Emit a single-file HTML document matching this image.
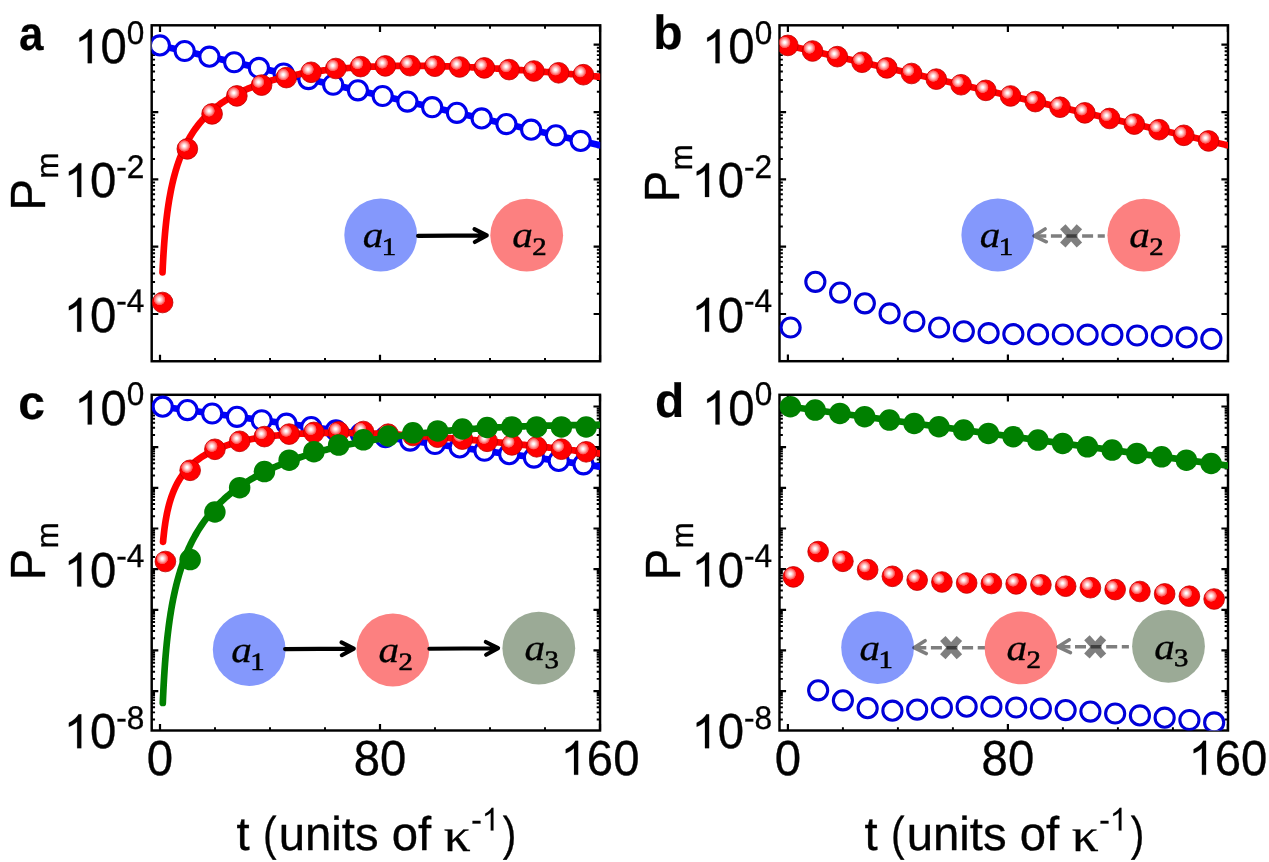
<!DOCTYPE html>
<html><head><meta charset="utf-8"><title>Figure</title>
<style>
html,body{margin:0;padding:0;background:#fff;}
body{width:1269px;height:862px;overflow:hidden;}
svg{display:block;}
.txt{opacity:0.999;}
text{text-rendering:geometricPrecision;font-family:"Liberation Sans",sans-serif;fill:#000;stroke:#000;stroke-width:0.35px;font-kerning:none;}
.one{fill:#000;stroke:#000;stroke-width:8;}
.kap{font-family:"Liberation Serif",serif;stroke-width:0.3px;}
.pl{font-size:48px;font-weight:bold;stroke-width:0.2px;}
.ntx{opacity:0.999;}
.nd{font-family:"Liberation Serif",serif;font-style:italic;font-size:36.8px;stroke-width:0.3px;}
.nds{font-family:"Liberation Serif",serif;font-style:normal;font-size:25px;stroke-width:0.55px;}
</style></head><body>
<svg width="1269" height="862" viewBox="0 0 1269 862">
<defs><radialGradient id="hl"><stop offset="0" stop-color="#fff"/><stop offset="0.14" stop-color="#fff"/><stop offset="0.55" stop-color="#ffa8a8"/><stop offset="0.93" stop-color="#ff4444"/><stop offset="1" stop-color="#ff2020" stop-opacity="0"/></radialGradient>
<clipPath id="cpa"><rect x="151.7" y="25.3" width="448.5" height="335.95"/></clipPath>
<clipPath id="cpb"><rect x="779.5" y="25.3" width="448.5" height="335.9"/></clipPath>
<clipPath id="cpc"><rect x="151.7" y="394.8" width="448.35" height="335.7"/></clipPath>
<clipPath id="cpd"><rect x="779.5" y="394.8" width="448.5" height="335.7"/></clipPath>
</defs>
<rect width="1269" height="862" fill="#fff"/>
<path d="M160 25.3 v6.6 M160 361.25 v-6.6 M380 25.3 v6.6 M380 361.25 v-6.6 M600 25.3 v6.6 M600 361.25 v-6.6 M151.7 44.7 h6.6 M600.2 44.7 h-6.6 M151.7 112.03 h6.6 M600.2 112.03 h-6.6 M151.7 179.36 h6.6 M600.2 179.36 h-6.6 M151.7 246.69 h6.6 M600.2 246.69 h-6.6 M151.7 314.02 h6.6 M600.2 314.02 h-6.6" stroke="#000" stroke-width="2.2" fill="none"/><path d="M215 25.3 v3.35 M215 361.25 v-3.35 M270 25.3 v3.35 M270 361.25 v-3.35 M325 25.3 v3.35 M325 361.25 v-3.35 M435 25.3 v3.35 M435 361.25 v-3.35 M490 25.3 v3.35 M490 361.25 v-3.35 M545 25.3 v3.35 M545 361.25 v-3.35 M151.7 91.76 h3.35 M600.2 91.76 h-3.35 M151.7 79.91 h3.35 M600.2 79.91 h-3.35 M151.7 71.49 h3.35 M600.2 71.49 h-3.35 M151.7 64.97 h3.35 M600.2 64.97 h-3.35 M151.7 59.64 h3.35 M600.2 59.64 h-3.35 M151.7 55.13 h3.35 M600.2 55.13 h-3.35 M151.7 51.22 h3.35 M600.2 51.22 h-3.35 M151.7 47.78 h3.35 M600.2 47.78 h-3.35 M151.7 159.09 h3.35 M600.2 159.09 h-3.35 M151.7 147.24 h3.35 M600.2 147.24 h-3.35 M151.7 138.82 h3.35 M600.2 138.82 h-3.35 M151.7 132.3 h3.35 M600.2 132.3 h-3.35 M151.7 126.97 h3.35 M600.2 126.97 h-3.35 M151.7 122.46 h3.35 M600.2 122.46 h-3.35 M151.7 118.55 h3.35 M600.2 118.55 h-3.35 M151.7 115.11 h3.35 M600.2 115.11 h-3.35 M151.7 226.42 h3.35 M600.2 226.42 h-3.35 M151.7 214.57 h3.35 M600.2 214.57 h-3.35 M151.7 206.15 h3.35 M600.2 206.15 h-3.35 M151.7 199.63 h3.35 M600.2 199.63 h-3.35 M151.7 194.3 h3.35 M600.2 194.3 h-3.35 M151.7 189.79 h3.35 M600.2 189.79 h-3.35 M151.7 185.88 h3.35 M600.2 185.88 h-3.35 M151.7 182.44 h3.35 M600.2 182.44 h-3.35 M151.7 293.75 h3.35 M600.2 293.75 h-3.35 M151.7 281.9 h3.35 M600.2 281.9 h-3.35 M151.7 273.48 h3.35 M600.2 273.48 h-3.35 M151.7 266.96 h3.35 M600.2 266.96 h-3.35 M151.7 261.63 h3.35 M600.2 261.63 h-3.35 M151.7 257.12 h3.35 M600.2 257.12 h-3.35 M151.7 253.21 h3.35 M600.2 253.21 h-3.35 M151.7 249.77 h3.35 M600.2 249.77 h-3.35" stroke="#000" stroke-width="1.95" fill="none"/>
<rect x="151.7" y="25.3" width="448.5" height="335.95" fill="none" stroke="#000" stroke-width="2.45"/>
<g clip-path="url(#cpa)">
<path d="M160 45.4 L600 145.31" fill="none" stroke="#0000ff" stroke-width="6.7" stroke-linecap="round" stroke-linejoin="round"/>
<circle cx="159.9" cy="45.4" r="9.55" fill="#fff" stroke="#0000ec" stroke-width="3.1"/><circle cx="184.65" cy="51.02" r="9.55" fill="#fff" stroke="#0000ec" stroke-width="3.1"/><circle cx="209.4" cy="56.64" r="9.55" fill="#fff" stroke="#0000ec" stroke-width="3.1"/><circle cx="234.15" cy="62.26" r="9.55" fill="#fff" stroke="#0000ec" stroke-width="3.1"/><circle cx="258.9" cy="67.88" r="9.55" fill="#fff" stroke="#0000ec" stroke-width="3.1"/><circle cx="283.65" cy="73.5" r="9.55" fill="#fff" stroke="#0000ec" stroke-width="3.1"/><circle cx="308.4" cy="79.12" r="9.55" fill="#fff" stroke="#0000ec" stroke-width="3.1"/><circle cx="333.15" cy="84.74" r="9.55" fill="#fff" stroke="#0000ec" stroke-width="3.1"/><circle cx="357.9" cy="90.36" r="9.55" fill="#fff" stroke="#0000ec" stroke-width="3.1"/><circle cx="382.65" cy="95.98" r="9.55" fill="#fff" stroke="#0000ec" stroke-width="3.1"/><circle cx="407.4" cy="101.6" r="9.55" fill="#fff" stroke="#0000ec" stroke-width="3.1"/><circle cx="432.15" cy="107.22" r="9.55" fill="#fff" stroke="#0000ec" stroke-width="3.1"/><circle cx="456.9" cy="112.84" r="9.55" fill="#fff" stroke="#0000ec" stroke-width="3.1"/><circle cx="481.65" cy="118.46" r="9.55" fill="#fff" stroke="#0000ec" stroke-width="3.1"/><circle cx="506.4" cy="124.08" r="9.55" fill="#fff" stroke="#0000ec" stroke-width="3.1"/><circle cx="531.15" cy="129.7" r="9.55" fill="#fff" stroke="#0000ec" stroke-width="3.1"/><circle cx="555.9" cy="135.32" r="9.55" fill="#fff" stroke="#0000ec" stroke-width="3.1"/><circle cx="580.65" cy="140.94" r="9.55" fill="#fff" stroke="#0000ec" stroke-width="3.1"/>
<path d="M162.52 272.3 L162.8 266.44 L163.07 261.14 L163.35 256.3 L163.62 251.85 L163.9 247.73 L164.17 243.89 L164.45 240.31 L164.72 236.94 L165 233.77 L165.27 230.76 L165.55 227.92 L165.82 225.22 L166.1 222.64 L166.37 220.18 L166.65 217.83 L166.92 215.57 L167.2 213.41 L167.47 211.33 L167.75 209.32 L168.02 207.39 L168.3 205.53 L168.57 203.72 L168.85 201.98 L169.12 200.29 L169.4 198.66 L169.67 197.07 L169.95 195.53 L170.22 194.04 L170.5 192.58 L170.77 191.16 L171.05 189.79 L171.32 188.44 L171.6 187.13 L171.87 185.86 L172.15 184.61 L172.42 183.39 L172.7 182.2 L172.97 181.04 L173.25 179.9 L173.52 178.79 L173.8 177.7 L174.07 176.64 L174.35 175.59 L174.62 174.57 L174.9 173.57 L175.17 172.58 L175.45 171.62 L175.72 170.67 L176 169.74 L176.27 168.83 L176.55 167.94 L176.82 167.06 L177.1 166.19 L177.37 165.34 L177.65 164.51 L177.92 163.69 L178.2 162.88 L178.47 162.08 L178.75 161.3 L179.02 160.53 L179.3 159.77 L179.57 159.03 L179.85 158.29 L180.12 157.57 L180.4 156.85 L180.67 156.15 L180.95 155.46 L181.22 154.78 L181.5 154.1 L181.77 153.44 L182.05 152.78 L182.32 152.14 L182.6 151.5 L182.87 150.87 L183.15 150.25 L183.42 149.64 L183.7 149.03 L183.97 148.44 L184.25 147.85 L184.52 147.26 L184.8 146.69 L185.07 146.12 L185.35 145.56 L185.62 145.01 L185.9 144.46 L186.17 143.92 L186.45 143.38 L186.72 142.85 L187 142.33 L187.27 141.81 L187.55 141.3 L187.82 140.8 L188.1 140.3 L188.37 139.8 L188.65 139.31 L188.92 138.83 L189.2 138.35 L189.47 137.88 L189.75 137.41 L190.02 136.95 L190.3 136.49 L190.57 136.03 L190.85 135.59 L191.12 135.14 L191.4 134.7 L191.67 134.26 L191.95 133.83 L192.22 133.41 L192.5 132.98 L192.77 132.56 L193 132.22 L194.38 130.2 L195.75 128.27 L197.12 126.42 L198.5 124.66 L199.88 122.96 L201.25 121.34 L202.62 119.78 L204 118.28 L205.38 116.83 L206.75 115.44 L208.12 114.09 L209.5 112.79 L210.88 111.54 L212.25 110.33 L213.62 109.16 L215 108.02 L216.38 106.92 L217.75 105.86 L219.12 104.83 L220.5 103.83 L221.88 102.86 L223.25 101.91 L224.62 101 L226 100.1 L227.38 99.24 L228.75 98.4 L230.12 97.58 L231.5 96.78 L232.88 96.01 L234.25 95.25 L235.62 94.51 L237 93.8 L238.38 93.1 L239.75 92.42 L241.12 91.75 L242.5 91.11 L243.88 90.47 L245.25 89.86 L246.62 89.26 L248 88.67 L249.38 88.09 L250.75 87.53 L252.12 86.99 L253.5 86.45 L254.88 85.93 L256.25 85.42 L257.62 84.93 L259 84.44 L260.38 83.96 L261.75 83.5 L263.12 83.04 L264.5 82.6 L265.88 82.17 L267.25 81.74 L268.62 81.33 L270 80.92 L271.38 80.52 L272.75 80.13 L274.12 79.76 L275.5 79.38 L276.88 79.02 L278.25 78.66 L279.62 78.32 L281 77.98 L282.38 77.64 L283.75 77.32 L285.12 77 L286.5 76.69 L287.88 76.38 L289.25 76.08 L290.62 75.79 L292 75.51 L293.38 75.23 L294.75 74.95 L296.12 74.69 L297.5 74.43 L298.88 74.17 L300.25 73.92 L301.62 73.67 L303 73.44 L304.38 73.2 L305.75 72.97 L307.12 72.75 L308.5 72.53 L309.88 72.32 L311.25 72.11 L312.62 71.9 L314 71.7 L315.38 71.51 L316.75 71.32 L318.12 71.13 L319.5 70.95 L320.88 70.77 L322.25 70.6 L323.62 70.43 L325 70.26 L326.38 70.1 L327.75 69.95 L329.12 69.79 L330.5 69.64 L331.88 69.5 L333.25 69.35 L334.62 69.21 L336 69.08 L337.38 68.95 L338.75 68.82 L340.12 68.69 L341.5 68.57 L342.88 68.45 L344.25 68.34 L345.62 68.23 L347 68.12 L348.38 68.01 L349.75 67.91 L351.12 67.81 L352.5 67.71 L353.88 67.62 L355.25 67.53 L356.62 67.44 L358 67.36 L359.38 67.27 L360.75 67.19 L362.12 67.12 L363.5 67.04 L364.88 66.97 L366.25 66.9 L367.62 66.83 L369 66.77 L370.38 66.71 L371.75 66.65 L373.12 66.59 L374.5 66.54 L375.88 66.48 L377.25 66.43 L378.62 66.39 L380 66.34 L381.38 66.3 L382.75 66.26 L384.12 66.22 L385.5 66.18 L386.88 66.15 L388.25 66.12 L389.62 66.09 L391 66.06 L392.38 66.03 L393.75 66.01 L395.12 65.98 L396.5 65.96 L397.88 65.95 L399.25 65.93 L400.62 65.92 L402 65.9 L403.38 65.89 L404.75 65.88 L406.12 65.88 L407.5 65.87 L408.88 65.87 L410.25 65.86 L411.62 65.86 L413 65.87 L414.38 65.87 L415.75 65.87 L417.12 65.88 L418.5 65.89 L419.88 65.9 L421.25 65.91 L422.62 65.92 L424 65.94 L425.38 65.95 L426.75 65.97 L428.12 65.99 L429.5 66.01 L430.88 66.03 L432.25 66.06 L433.62 66.08 L435 66.11 L436.38 66.14 L437.75 66.17 L439.12 66.2 L440.5 66.23 L441.88 66.26 L443.25 66.3 L444.62 66.33 L446 66.37 L447.38 66.41 L448.75 66.45 L450.12 66.49 L451.5 66.53 L452.88 66.58 L454.25 66.62 L455.62 66.67 L457 66.72 L458.38 66.77 L459.75 66.82 L461.12 66.87 L462.5 66.92 L463.88 66.98 L465.25 67.03 L466.62 67.09 L468 67.14 L469.38 67.2 L470.75 67.26 L472.12 67.32 L473.5 67.38 L474.88 67.45 L476.25 67.51 L477.62 67.58 L479 67.64 L480.38 67.71 L481.75 67.78 L483.12 67.85 L484.5 67.92 L485.88 67.99 L487.25 68.06 L488.62 68.14 L490 68.21 L491.38 68.28 L492.75 68.36 L494.12 68.44 L495.5 68.52 L496.88 68.6 L498.25 68.68 L499.62 68.76 L501 68.84 L502.38 68.92 L503.75 69.01 L505.12 69.09 L506.5 69.18 L507.88 69.26 L509.25 69.35 L510.62 69.44 L512 69.53 L513.38 69.62 L514.75 69.71 L516.12 69.8 L517.5 69.9 L518.88 69.99 L520.25 70.08 L521.62 70.18 L523 70.28 L524.38 70.37 L525.75 70.47 L527.12 70.57 L528.5 70.67 L529.88 70.77 L531.25 70.87 L532.62 70.97 L534 71.07 L535.38 71.18 L536.75 71.28 L538.12 71.39 L539.5 71.49 L540.88 71.6 L542.25 71.7 L543.62 71.81 L545 71.92 L546.38 72.03 L547.75 72.14 L549.12 72.25 L550.5 72.36 L551.88 72.47 L553.25 72.59 L554.62 72.7 L556 72.82 L557.38 72.93 L558.75 73.05 L560.12 73.16 L561.5 73.28 L562.88 73.4 L564.25 73.52 L565.62 73.63 L567 73.75 L568.38 73.87 L569.75 74 L571.12 74.12 L572.5 74.24 L573.88 74.36 L575.25 74.49 L576.62 74.61 L578 74.73 L579.38 74.86 L580.75 74.99 L582.12 75.11 L583.5 75.24 L584.88 75.37 L586.25 75.5 L587.62 75.62 L589 75.75 L590.38 75.88 L591.75 76.01 L593.12 76.15 L594.5 76.28 L595.88 76.41 L597.25 76.54 L598.62 76.68 L600 76.81" fill="none" stroke="#f00" stroke-width="6.7" stroke-linecap="round" stroke-linejoin="round"/>
<circle cx="162.6" cy="302.5" r="10.35" fill="#f00" stroke="#bc0000" stroke-width="0.8"/><circle cx="159.5" cy="299.5" r="6.0" fill="url(#hl)"/><circle cx="187.35" cy="148.9" r="10.35" fill="#f00" stroke="#bc0000" stroke-width="0.8"/><circle cx="184.25" cy="145.9" r="6.0" fill="url(#hl)"/><circle cx="212.1" cy="113.9" r="10.35" fill="#f00" stroke="#bc0000" stroke-width="0.8"/><circle cx="209" cy="110.9" r="6.0" fill="url(#hl)"/><circle cx="236.85" cy="95.9" r="10.35" fill="#f00" stroke="#bc0000" stroke-width="0.8"/><circle cx="233.75" cy="92.9" r="6.0" fill="url(#hl)"/><circle cx="261.6" cy="85.1" r="10.35" fill="#f00" stroke="#bc0000" stroke-width="0.8"/><circle cx="258.5" cy="82.1" r="6.0" fill="url(#hl)"/><circle cx="286.35" cy="77.6" r="10.35" fill="#f00" stroke="#bc0000" stroke-width="0.8"/><circle cx="283.25" cy="74.6" r="6.0" fill="url(#hl)"/><circle cx="311.1" cy="72.3" r="10.35" fill="#f00" stroke="#bc0000" stroke-width="0.8"/><circle cx="308" cy="69.3" r="6.0" fill="url(#hl)"/><circle cx="335.85" cy="68.5" r="10.35" fill="#f00" stroke="#bc0000" stroke-width="0.8"/><circle cx="332.75" cy="65.5" r="6.0" fill="url(#hl)"/><circle cx="360.6" cy="66.6" r="10.35" fill="#f00" stroke="#bc0000" stroke-width="0.8"/><circle cx="357.5" cy="63.6" r="6.0" fill="url(#hl)"/><circle cx="385.35" cy="65.9" r="10.35" fill="#f00" stroke="#bc0000" stroke-width="0.8"/><circle cx="382.25" cy="62.9" r="6.0" fill="url(#hl)"/><circle cx="410.1" cy="65.7" r="10.35" fill="#f00" stroke="#bc0000" stroke-width="0.8"/><circle cx="407" cy="62.7" r="6.0" fill="url(#hl)"/><circle cx="434.85" cy="66.2" r="10.35" fill="#f00" stroke="#bc0000" stroke-width="0.8"/><circle cx="431.75" cy="63.2" r="6.0" fill="url(#hl)"/><circle cx="459.6" cy="67" r="10.35" fill="#f00" stroke="#bc0000" stroke-width="0.8"/><circle cx="456.5" cy="64" r="6.0" fill="url(#hl)"/><circle cx="484.35" cy="67.9" r="10.35" fill="#f00" stroke="#bc0000" stroke-width="0.8"/><circle cx="481.25" cy="64.9" r="6.0" fill="url(#hl)"/><circle cx="509.1" cy="69.6" r="10.35" fill="#f00" stroke="#bc0000" stroke-width="0.8"/><circle cx="506" cy="66.6" r="6.0" fill="url(#hl)"/><circle cx="533.85" cy="71" r="10.35" fill="#f00" stroke="#bc0000" stroke-width="0.8"/><circle cx="530.75" cy="68" r="6.0" fill="url(#hl)"/><circle cx="558.6" cy="72.8" r="10.35" fill="#f00" stroke="#bc0000" stroke-width="0.8"/><circle cx="555.5" cy="69.8" r="6.0" fill="url(#hl)"/><circle cx="583.35" cy="74.7" r="10.35" fill="#f00" stroke="#bc0000" stroke-width="0.8"/><circle cx="580.25" cy="71.7" r="6.0" fill="url(#hl)"/>
</g>
<circle cx="380.7" cy="235" r="36.4" fill="#8498fc"/>
<circle cx="526.7" cy="235.2" r="36.4" fill="#fc8080"/>
<path d="M418.1 235.9 L486.7 235.4 M474.5 229.2 L486.8 235.4 L474.8 242" fill="none" stroke="#000" stroke-width="4.1" stroke-linecap="round" stroke-linejoin="round"/>
<path d="M787.9 25.3 v6.6 M787.9 361.2 v-6.6 M1007.9 25.3 v6.6 M1007.9 361.2 v-6.6 M1227.9 25.3 v6.6 M1227.9 361.2 v-6.6 M779.5 44.7 h6.6 M1228 44.7 h-6.6 M779.5 112.03 h6.6 M1228 112.03 h-6.6 M779.5 179.36 h6.6 M1228 179.36 h-6.6 M779.5 246.69 h6.6 M1228 246.69 h-6.6 M779.5 314.02 h6.6 M1228 314.02 h-6.6" stroke="#000" stroke-width="2.2" fill="none"/><path d="M842.9 25.3 v3.35 M842.9 361.2 v-3.35 M897.9 25.3 v3.35 M897.9 361.2 v-3.35 M952.9 25.3 v3.35 M952.9 361.2 v-3.35 M1062.9 25.3 v3.35 M1062.9 361.2 v-3.35 M1117.9 25.3 v3.35 M1117.9 361.2 v-3.35 M1172.9 25.3 v3.35 M1172.9 361.2 v-3.35 M779.5 91.76 h3.35 M1228 91.76 h-3.35 M779.5 79.91 h3.35 M1228 79.91 h-3.35 M779.5 71.49 h3.35 M1228 71.49 h-3.35 M779.5 64.97 h3.35 M1228 64.97 h-3.35 M779.5 59.64 h3.35 M1228 59.64 h-3.35 M779.5 55.13 h3.35 M1228 55.13 h-3.35 M779.5 51.22 h3.35 M1228 51.22 h-3.35 M779.5 47.78 h3.35 M1228 47.78 h-3.35 M779.5 159.09 h3.35 M1228 159.09 h-3.35 M779.5 147.24 h3.35 M1228 147.24 h-3.35 M779.5 138.82 h3.35 M1228 138.82 h-3.35 M779.5 132.3 h3.35 M1228 132.3 h-3.35 M779.5 126.97 h3.35 M1228 126.97 h-3.35 M779.5 122.46 h3.35 M1228 122.46 h-3.35 M779.5 118.55 h3.35 M1228 118.55 h-3.35 M779.5 115.11 h3.35 M1228 115.11 h-3.35 M779.5 226.42 h3.35 M1228 226.42 h-3.35 M779.5 214.57 h3.35 M1228 214.57 h-3.35 M779.5 206.15 h3.35 M1228 206.15 h-3.35 M779.5 199.63 h3.35 M1228 199.63 h-3.35 M779.5 194.3 h3.35 M1228 194.3 h-3.35 M779.5 189.79 h3.35 M1228 189.79 h-3.35 M779.5 185.88 h3.35 M1228 185.88 h-3.35 M779.5 182.44 h3.35 M1228 182.44 h-3.35 M779.5 293.75 h3.35 M1228 293.75 h-3.35 M779.5 281.9 h3.35 M1228 281.9 h-3.35 M779.5 273.48 h3.35 M1228 273.48 h-3.35 M779.5 266.96 h3.35 M1228 266.96 h-3.35 M779.5 261.63 h3.35 M1228 261.63 h-3.35 M779.5 257.12 h3.35 M1228 257.12 h-3.35 M779.5 253.21 h3.35 M1228 253.21 h-3.35 M779.5 249.77 h3.35 M1228 249.77 h-3.35" stroke="#000" stroke-width="1.95" fill="none"/>
<rect x="779.5" y="25.3" width="448.5" height="335.9" fill="none" stroke="#000" stroke-width="2.45"/>
<g clip-path="url(#cpb)">
<circle cx="790.6" cy="327.5" r="9.55" fill="#fff" stroke="#0000d8" stroke-width="3.1"/><circle cx="815.35" cy="281.8" r="9.55" fill="#fff" stroke="#0000d8" stroke-width="3.1"/><circle cx="840.1" cy="292.6" r="9.55" fill="#fff" stroke="#0000d8" stroke-width="3.1"/><circle cx="864.85" cy="303.3" r="9.55" fill="#fff" stroke="#0000d8" stroke-width="3.1"/><circle cx="889.6" cy="313.4" r="9.55" fill="#fff" stroke="#0000d8" stroke-width="3.1"/><circle cx="914.35" cy="321.5" r="9.55" fill="#fff" stroke="#0000d8" stroke-width="3.1"/><circle cx="939.1" cy="327.5" r="9.55" fill="#fff" stroke="#0000d8" stroke-width="3.1"/><circle cx="963.85" cy="331.3" r="9.55" fill="#fff" stroke="#0000d8" stroke-width="3.1"/><circle cx="988.6" cy="333.2" r="9.55" fill="#fff" stroke="#0000d8" stroke-width="3.1"/><circle cx="1013.35" cy="334.2" r="9.55" fill="#fff" stroke="#0000d8" stroke-width="3.1"/><circle cx="1038.1" cy="334.4" r="9.55" fill="#fff" stroke="#0000d8" stroke-width="3.1"/><circle cx="1062.85" cy="334.5" r="9.55" fill="#fff" stroke="#0000d8" stroke-width="3.1"/><circle cx="1087.6" cy="334.7" r="9.55" fill="#fff" stroke="#0000d8" stroke-width="3.1"/><circle cx="1112.35" cy="334.9" r="9.55" fill="#fff" stroke="#0000d8" stroke-width="3.1"/><circle cx="1137.1" cy="335.5" r="9.55" fill="#fff" stroke="#0000d8" stroke-width="3.1"/><circle cx="1161.85" cy="336.2" r="9.55" fill="#fff" stroke="#0000d8" stroke-width="3.1"/><circle cx="1186.6" cy="337.4" r="9.55" fill="#fff" stroke="#0000d8" stroke-width="3.1"/><circle cx="1211.35" cy="338.9" r="9.55" fill="#fff" stroke="#0000d8" stroke-width="3.1"/>
<path d="M787.9 45.4 L1228 145.33" fill="none" stroke="#f00" stroke-width="6.7" stroke-linecap="round" stroke-linejoin="round"/>
<circle cx="787.8" cy="45.4" r="10.35" fill="#f00" stroke="#bc0000" stroke-width="0.8"/><circle cx="784.7" cy="42.4" r="6.0" fill="url(#hl)"/><circle cx="812.55" cy="51.02" r="10.35" fill="#f00" stroke="#bc0000" stroke-width="0.8"/><circle cx="809.45" cy="48.02" r="6.0" fill="url(#hl)"/><circle cx="837.3" cy="56.64" r="10.35" fill="#f00" stroke="#bc0000" stroke-width="0.8"/><circle cx="834.2" cy="53.64" r="6.0" fill="url(#hl)"/><circle cx="862.05" cy="62.26" r="10.35" fill="#f00" stroke="#bc0000" stroke-width="0.8"/><circle cx="858.95" cy="59.26" r="6.0" fill="url(#hl)"/><circle cx="886.8" cy="67.88" r="10.35" fill="#f00" stroke="#bc0000" stroke-width="0.8"/><circle cx="883.7" cy="64.88" r="6.0" fill="url(#hl)"/><circle cx="911.55" cy="73.5" r="10.35" fill="#f00" stroke="#bc0000" stroke-width="0.8"/><circle cx="908.45" cy="70.5" r="6.0" fill="url(#hl)"/><circle cx="936.3" cy="79.12" r="10.35" fill="#f00" stroke="#bc0000" stroke-width="0.8"/><circle cx="933.2" cy="76.12" r="6.0" fill="url(#hl)"/><circle cx="961.05" cy="84.74" r="10.35" fill="#f00" stroke="#bc0000" stroke-width="0.8"/><circle cx="957.95" cy="81.74" r="6.0" fill="url(#hl)"/><circle cx="985.8" cy="90.36" r="10.35" fill="#f00" stroke="#bc0000" stroke-width="0.8"/><circle cx="982.7" cy="87.36" r="6.0" fill="url(#hl)"/><circle cx="1010.55" cy="95.98" r="10.35" fill="#f00" stroke="#bc0000" stroke-width="0.8"/><circle cx="1007.45" cy="92.98" r="6.0" fill="url(#hl)"/><circle cx="1035.3" cy="101.6" r="10.35" fill="#f00" stroke="#bc0000" stroke-width="0.8"/><circle cx="1032.2" cy="98.6" r="6.0" fill="url(#hl)"/><circle cx="1060.05" cy="107.22" r="10.35" fill="#f00" stroke="#bc0000" stroke-width="0.8"/><circle cx="1056.95" cy="104.22" r="6.0" fill="url(#hl)"/><circle cx="1084.8" cy="112.84" r="10.35" fill="#f00" stroke="#bc0000" stroke-width="0.8"/><circle cx="1081.7" cy="109.84" r="6.0" fill="url(#hl)"/><circle cx="1109.55" cy="118.46" r="10.35" fill="#f00" stroke="#bc0000" stroke-width="0.8"/><circle cx="1106.45" cy="115.46" r="6.0" fill="url(#hl)"/><circle cx="1134.3" cy="124.08" r="10.35" fill="#f00" stroke="#bc0000" stroke-width="0.8"/><circle cx="1131.2" cy="121.08" r="6.0" fill="url(#hl)"/><circle cx="1159.05" cy="129.7" r="10.35" fill="#f00" stroke="#bc0000" stroke-width="0.8"/><circle cx="1155.95" cy="126.7" r="6.0" fill="url(#hl)"/><circle cx="1183.8" cy="135.32" r="10.35" fill="#f00" stroke="#bc0000" stroke-width="0.8"/><circle cx="1180.7" cy="132.32" r="6.0" fill="url(#hl)"/><circle cx="1208.55" cy="140.94" r="10.35" fill="#f00" stroke="#bc0000" stroke-width="0.8"/><circle cx="1205.45" cy="137.94" r="6.0" fill="url(#hl)"/>
</g>
<circle cx="997.8" cy="235" r="36.4" fill="#8498fc"/>
<circle cx="1143.8" cy="235.2" r="36.4" fill="#fc8080"/>
<g opacity="0.5"><path d="M1035.3 235.9 H1104.8" fill="none" stroke="#000" stroke-width="3.5" stroke-dasharray="11 4.6"/><path d="M1045.1 228.9 L1034 235.9 L1046.3 241.8" fill="none" stroke="#000" stroke-width="3.5" stroke-linecap="round" stroke-linejoin="round"/></g><path d="M1062.8 226.8 L1079.4 245 M1062.8 245 L1079.4 226.8" fill="none" stroke="#000" stroke-opacity="0.5" stroke-width="7.4"/>
<path d="M160 394.8 v6.6 M160 730.5 v-6.6 M380 394.8 v6.6 M380 730.5 v-6.6 M600 394.8 v6.6 M600 730.5 v-6.6 M151.7 406.5 h6.6 M600.05 406.5 h-6.6 M151.7 447.16 h6.6 M600.05 447.16 h-6.6 M151.7 487.82 h6.6 M600.05 487.82 h-6.6 M151.7 528.48 h6.6 M600.05 528.48 h-6.6 M151.7 569.14 h6.6 M600.05 569.14 h-6.6 M151.7 609.8 h6.6 M600.05 609.8 h-6.6 M151.7 650.46 h6.6 M600.05 650.46 h-6.6 M151.7 691.12 h6.6 M600.05 691.12 h-6.6" stroke="#000" stroke-width="2.2" fill="none"/><path d="M215 394.8 v3.35 M215 730.5 v-3.35 M270 394.8 v3.35 M270 730.5 v-3.35 M325 394.8 v3.35 M325 730.5 v-3.35 M435 394.8 v3.35 M435 730.5 v-3.35 M490 394.8 v3.35 M490 730.5 v-3.35 M545 394.8 v3.35 M545 730.5 v-3.35 M151.7 434.92 h3.35 M600.05 434.92 h-3.35 M151.7 427.76 h3.35 M600.05 427.76 h-3.35 M151.7 422.68 h3.35 M600.05 422.68 h-3.35 M151.7 418.74 h3.35 M600.05 418.74 h-3.35 M151.7 415.52 h3.35 M600.05 415.52 h-3.35 M151.7 412.8 h3.35 M600.05 412.8 h-3.35 M151.7 410.44 h3.35 M600.05 410.44 h-3.35 M151.7 408.36 h3.35 M600.05 408.36 h-3.35 M151.7 475.58 h3.35 M600.05 475.58 h-3.35 M151.7 468.42 h3.35 M600.05 468.42 h-3.35 M151.7 463.34 h3.35 M600.05 463.34 h-3.35 M151.7 459.4 h3.35 M600.05 459.4 h-3.35 M151.7 456.18 h3.35 M600.05 456.18 h-3.35 M151.7 453.46 h3.35 M600.05 453.46 h-3.35 M151.7 451.1 h3.35 M600.05 451.1 h-3.35 M151.7 449.02 h3.35 M600.05 449.02 h-3.35 M151.7 516.24 h3.35 M600.05 516.24 h-3.35 M151.7 509.08 h3.35 M600.05 509.08 h-3.35 M151.7 504 h3.35 M600.05 504 h-3.35 M151.7 500.06 h3.35 M600.05 500.06 h-3.35 M151.7 496.84 h3.35 M600.05 496.84 h-3.35 M151.7 494.12 h3.35 M600.05 494.12 h-3.35 M151.7 491.76 h3.35 M600.05 491.76 h-3.35 M151.7 489.68 h3.35 M600.05 489.68 h-3.35 M151.7 556.9 h3.35 M600.05 556.9 h-3.35 M151.7 549.74 h3.35 M600.05 549.74 h-3.35 M151.7 544.66 h3.35 M600.05 544.66 h-3.35 M151.7 540.72 h3.35 M600.05 540.72 h-3.35 M151.7 537.5 h3.35 M600.05 537.5 h-3.35 M151.7 534.78 h3.35 M600.05 534.78 h-3.35 M151.7 532.42 h3.35 M600.05 532.42 h-3.35 M151.7 530.34 h3.35 M600.05 530.34 h-3.35 M151.7 597.56 h3.35 M600.05 597.56 h-3.35 M151.7 590.4 h3.35 M600.05 590.4 h-3.35 M151.7 585.32 h3.35 M600.05 585.32 h-3.35 M151.7 581.38 h3.35 M600.05 581.38 h-3.35 M151.7 578.16 h3.35 M600.05 578.16 h-3.35 M151.7 575.44 h3.35 M600.05 575.44 h-3.35 M151.7 573.08 h3.35 M600.05 573.08 h-3.35 M151.7 571 h3.35 M600.05 571 h-3.35 M151.7 638.22 h3.35 M600.05 638.22 h-3.35 M151.7 631.06 h3.35 M600.05 631.06 h-3.35 M151.7 625.98 h3.35 M600.05 625.98 h-3.35 M151.7 622.04 h3.35 M600.05 622.04 h-3.35 M151.7 618.82 h3.35 M600.05 618.82 h-3.35 M151.7 616.1 h3.35 M600.05 616.1 h-3.35 M151.7 613.74 h3.35 M600.05 613.74 h-3.35 M151.7 611.66 h3.35 M600.05 611.66 h-3.35 M151.7 678.88 h3.35 M600.05 678.88 h-3.35 M151.7 671.72 h3.35 M600.05 671.72 h-3.35 M151.7 666.64 h3.35 M600.05 666.64 h-3.35 M151.7 662.7 h3.35 M600.05 662.7 h-3.35 M151.7 659.48 h3.35 M600.05 659.48 h-3.35 M151.7 656.76 h3.35 M600.05 656.76 h-3.35 M151.7 654.4 h3.35 M600.05 654.4 h-3.35 M151.7 652.32 h3.35 M600.05 652.32 h-3.35 M151.7 719.54 h3.35 M600.05 719.54 h-3.35 M151.7 712.38 h3.35 M600.05 712.38 h-3.35 M151.7 707.3 h3.35 M600.05 707.3 h-3.35 M151.7 703.36 h3.35 M600.05 703.36 h-3.35 M151.7 700.14 h3.35 M600.05 700.14 h-3.35 M151.7 697.42 h3.35 M600.05 697.42 h-3.35 M151.7 695.06 h3.35 M600.05 695.06 h-3.35 M151.7 692.98 h3.35 M600.05 692.98 h-3.35" stroke="#000" stroke-width="1.95" fill="none"/>
<rect x="151.7" y="394.8" width="448.35" height="335.7" fill="none" stroke="#000" stroke-width="2.45"/>
<g clip-path="url(#cpc)">
<path d="M162.7 406.7 L600.2 466.62" fill="none" stroke="#0000ff" stroke-width="6.7" stroke-linecap="round" stroke-linejoin="round"/>
<circle cx="162.7" cy="406.7" r="9.55" fill="#fff" stroke="#0000ec" stroke-width="3.1"/><circle cx="187.45" cy="410.09" r="9.55" fill="#fff" stroke="#0000ec" stroke-width="3.1"/><circle cx="212.2" cy="413.48" r="9.55" fill="#fff" stroke="#0000ec" stroke-width="3.1"/><circle cx="236.95" cy="416.87" r="9.55" fill="#fff" stroke="#0000ec" stroke-width="3.1"/><circle cx="261.7" cy="420.26" r="9.55" fill="#fff" stroke="#0000ec" stroke-width="3.1"/><circle cx="286.45" cy="423.65" r="9.55" fill="#fff" stroke="#0000ec" stroke-width="3.1"/><circle cx="311.2" cy="427.04" r="9.55" fill="#fff" stroke="#0000ec" stroke-width="3.1"/><circle cx="335.95" cy="430.43" r="9.55" fill="#fff" stroke="#0000ec" stroke-width="3.1"/><circle cx="360.7" cy="433.82" r="9.55" fill="#fff" stroke="#0000ec" stroke-width="3.1"/><circle cx="385.45" cy="437.21" r="9.55" fill="#fff" stroke="#0000ec" stroke-width="3.1"/><circle cx="410.2" cy="440.6" r="9.55" fill="#fff" stroke="#0000ec" stroke-width="3.1"/><circle cx="434.95" cy="443.99" r="9.55" fill="#fff" stroke="#0000ec" stroke-width="3.1"/><circle cx="459.7" cy="447.38" r="9.55" fill="#fff" stroke="#0000ec" stroke-width="3.1"/><circle cx="484.45" cy="450.77" r="9.55" fill="#fff" stroke="#0000ec" stroke-width="3.1"/><circle cx="509.2" cy="454.16" r="9.55" fill="#fff" stroke="#0000ec" stroke-width="3.1"/><circle cx="533.95" cy="457.55" r="9.55" fill="#fff" stroke="#0000ec" stroke-width="3.1"/><circle cx="558.7" cy="460.94" r="9.55" fill="#fff" stroke="#0000ec" stroke-width="3.1"/><circle cx="583.45" cy="464.33" r="9.55" fill="#fff" stroke="#0000ec" stroke-width="3.1"/>
<path d="M163.07 541.8 L163.35 538.81 L163.62 536.07 L163.9 533.52 L164.17 531.16 L164.45 528.95 L164.72 526.87 L165 524.92 L165.27 523.07 L165.55 521.32 L165.82 519.66 L166.1 518.08 L166.37 516.57 L166.65 515.12 L166.92 513.74 L167.2 512.41 L167.47 511.14 L167.75 509.91 L168.02 508.73 L168.3 507.59 L168.57 506.48 L168.85 505.42 L169.12 504.39 L169.4 503.39 L169.67 502.42 L169.95 501.48 L170.22 500.57 L170.5 499.68 L170.77 498.82 L171.05 497.98 L171.32 497.16 L171.6 496.37 L171.87 495.59 L172.15 494.83 L172.42 494.09 L172.7 493.37 L172.97 492.66 L173.25 491.98 L173.52 491.3 L173.8 490.64 L174.07 490 L174.35 489.37 L174.62 488.75 L174.9 488.14 L175.17 487.55 L175.45 486.96 L175.72 486.39 L176 485.83 L176.27 485.28 L176.55 484.74 L176.82 484.21 L177.1 483.69 L177.37 483.18 L177.65 482.68 L177.92 482.19 L178.2 481.7 L178.47 481.23 L178.75 480.76 L179.02 480.29 L179.3 479.84 L179.57 479.39 L179.85 478.95 L180.12 478.52 L180.4 478.09 L180.67 477.67 L180.95 477.26 L181.22 476.85 L181.5 476.45 L181.77 476.05 L182.05 475.66 L182.32 475.28 L182.6 474.9 L182.87 474.53 L183.15 474.16 L183.42 473.79 L183.7 473.43 L183.97 473.08 L184.25 472.73 L184.52 472.39 L184.8 472.05 L185.07 471.71 L185.35 471.38 L185.62 471.05 L185.9 470.73 L186.17 470.41 L186.45 470.09 L186.72 469.78 L187 469.47 L187.27 469.17 L187.55 468.87 L187.82 468.57 L188.1 468.27 L188.37 467.98 L188.65 467.7 L188.92 467.41 L189.2 467.13 L189.47 466.86 L189.75 466.58 L190.02 466.31 L190.3 466.04 L190.57 465.78 L190.85 465.51 L191.12 465.25 L191.4 465 L191.67 464.74 L191.95 464.49 L192.22 464.24 L192.5 464 L192.77 463.75 L193 463.55 L194.38 462.38 L195.75 461.26 L197.12 460.2 L198.5 459.19 L199.88 458.22 L201.25 457.29 L202.62 456.4 L204 455.55 L205.38 454.74 L206.75 453.95 L208.12 453.2 L209.5 452.48 L210.88 451.78 L212.25 451.11 L213.62 450.47 L215 449.84 L216.38 449.24 L217.75 448.67 L219.12 448.11 L220.5 447.57 L221.88 447.05 L223.25 446.54 L224.62 446.06 L226 445.59 L227.38 445.13 L228.75 444.69 L230.12 444.26 L231.5 443.85 L232.88 443.45 L234.25 443.06 L235.62 442.69 L237 442.33 L238.38 441.97 L239.75 441.63 L241.12 441.3 L242.5 440.98 L243.88 440.67 L245.25 440.37 L246.62 440.08 L248 439.8 L249.38 439.53 L250.75 439.26 L252.12 439 L253.5 438.75 L254.88 438.51 L256.25 438.28 L257.62 438.05 L259 437.83 L260.38 437.62 L261.75 437.41 L263.12 437.21 L264.5 437.02 L265.88 436.83 L267.25 436.65 L268.62 436.47 L270 436.3 L271.38 436.14 L272.75 435.98 L274.12 435.83 L275.5 435.68 L276.88 435.53 L278.25 435.4 L279.62 435.26 L281 435.13 L282.38 435.01 L283.75 434.89 L285.12 434.77 L286.5 434.66 L287.88 434.55 L289.25 434.45 L290.62 434.35 L292 434.26 L293.38 434.17 L294.75 434.08 L296.12 433.99 L297.5 433.91 L298.88 433.84 L300.25 433.76 L301.62 433.69 L303 433.63 L304.38 433.57 L305.75 433.51 L307.12 433.45 L308.5 433.39 L309.88 433.34 L311.25 433.3 L312.62 433.25 L314 433.21 L315.38 433.17 L316.75 433.14 L318.12 433.1 L319.5 433.07 L320.88 433.04 L322.25 433.02 L323.62 432.99 L325 432.97 L326.38 432.96 L327.75 432.94 L329.12 432.93 L330.5 432.92 L331.88 432.91 L333.25 432.9 L334.62 432.9 L336 432.9 L337.38 432.9 L338.75 432.9 L340.12 432.9 L341.5 432.91 L342.88 432.92 L344.25 432.93 L345.62 432.94 L347 432.96 L348.38 432.97 L349.75 432.99 L351.12 433.01 L352.5 433.03 L353.88 433.06 L355.25 433.08 L356.62 433.11 L358 433.14 L359.38 433.17 L360.75 433.2 L362.12 433.24 L363.5 433.27 L364.88 433.31 L366.25 433.35 L367.62 433.39 L369 433.43 L370.38 433.48 L371.75 433.52 L373.12 433.57 L374.5 433.62 L375.88 433.67 L377.25 433.72 L378.62 433.77 L380 433.82 L381.38 433.88 L382.75 433.94 L384.12 434 L385.5 434.05 L386.88 434.12 L388.25 434.18 L389.62 434.24 L391 434.31 L392.38 434.37 L393.75 434.44 L395.12 434.51 L396.5 434.58 L397.88 434.65 L399.25 434.72 L400.62 434.79 L402 434.87 L403.38 434.94 L404.75 435.02 L406.12 435.1 L407.5 435.18 L408.88 435.26 L410.25 435.34 L411.62 435.42 L413 435.5 L414.38 435.59 L415.75 435.67 L417.12 435.76 L418.5 435.84 L419.88 435.93 L421.25 436.02 L422.62 436.11 L424 436.2 L425.38 436.3 L426.75 436.39 L428.12 436.48 L429.5 436.58 L430.88 436.67 L432.25 436.77 L433.62 436.87 L435 436.97 L436.38 437.07 L437.75 437.17 L439.12 437.27 L440.5 437.37 L441.88 437.47 L443.25 437.58 L444.62 437.68 L446 437.79 L447.38 437.89 L448.75 438 L450.12 438.11 L451.5 438.22 L452.88 438.33 L454.25 438.44 L455.62 438.55 L457 438.66 L458.38 438.77 L459.75 438.89 L461.12 439 L462.5 439.11 L463.88 439.23 L465.25 439.35 L466.62 439.46 L468 439.58 L469.38 439.7 L470.75 439.82 L472.12 439.94 L473.5 440.06 L474.88 440.18 L476.25 440.3 L477.62 440.43 L479 440.55 L480.38 440.67 L481.75 440.8 L483.12 440.92 L484.5 441.05 L485.88 441.17 L487.25 441.3 L488.62 441.43 L490 441.56 L491.38 441.69 L492.75 441.82 L494.12 441.95 L495.5 442.08 L496.88 442.21 L498.25 442.34 L499.62 442.47 L501 442.61 L502.38 442.74 L503.75 442.87 L505.12 443.01 L506.5 443.14 L507.88 443.28 L509.25 443.42 L510.62 443.55 L512 443.69 L513.38 443.83 L514.75 443.97 L516.12 444.11 L517.5 444.25 L518.88 444.39 L520.25 444.53 L521.62 444.67 L523 444.81 L524.38 444.95 L525.75 445.1 L527.12 445.24 L528.5 445.38 L529.88 445.53 L531.25 445.67 L532.62 445.82 L534 445.96 L535.38 446.11 L536.75 446.26 L538.12 446.41 L539.5 446.55 L540.88 446.7 L542.25 446.85 L543.62 447 L545 447.15 L546.38 447.3 L547.75 447.45 L549.12 447.6 L550.5 447.75 L551.88 447.9 L553.25 448.06 L554.62 448.21 L556 448.36 L557.38 448.51 L558.75 448.67 L560.12 448.82 L561.5 448.98 L562.88 449.13 L564.25 449.29 L565.62 449.44 L567 449.6 L568.38 449.76 L569.75 449.91 L571.12 450.07 L572.5 450.23 L573.88 450.39 L575.25 450.55 L576.62 450.71 L578 450.87 L579.38 451.03 L580.75 451.19 L582.12 451.35 L583.5 451.51 L584.88 451.67 L586.25 451.83 L587.62 451.99 L589 452.16 L590.38 452.32 L591.75 452.48 L593.12 452.65 L594.5 452.81 L595.88 452.98 L597.25 453.14 L598.62 453.31 L600 453.47" fill="none" stroke="#f00" stroke-width="6.7" stroke-linecap="round" stroke-linejoin="round"/>
<circle cx="165.4" cy="561.5" r="10.35" fill="#f00" stroke="#bc0000" stroke-width="0.8"/><circle cx="162.3" cy="558.5" r="6.0" fill="url(#hl)"/><circle cx="190.15" cy="470.3" r="10.35" fill="#f00" stroke="#bc0000" stroke-width="0.8"/><circle cx="187.05" cy="467.3" r="6.0" fill="url(#hl)"/><circle cx="214.9" cy="449.3" r="10.35" fill="#f00" stroke="#bc0000" stroke-width="0.8"/><circle cx="211.8" cy="446.3" r="6.0" fill="url(#hl)"/><circle cx="239.65" cy="441.3" r="10.35" fill="#f00" stroke="#bc0000" stroke-width="0.8"/><circle cx="236.55" cy="438.3" r="6.0" fill="url(#hl)"/><circle cx="264.4" cy="436.6" r="10.35" fill="#f00" stroke="#bc0000" stroke-width="0.8"/><circle cx="261.3" cy="433.6" r="6.0" fill="url(#hl)"/><circle cx="289.15" cy="434.1" r="10.35" fill="#f00" stroke="#bc0000" stroke-width="0.8"/><circle cx="286.05" cy="431.1" r="6.0" fill="url(#hl)"/><circle cx="313.9" cy="432.4" r="10.35" fill="#f00" stroke="#bc0000" stroke-width="0.8"/><circle cx="310.8" cy="429.4" r="6.0" fill="url(#hl)"/><circle cx="338.65" cy="431.9" r="10.35" fill="#f00" stroke="#bc0000" stroke-width="0.8"/><circle cx="335.55" cy="428.9" r="6.0" fill="url(#hl)"/><circle cx="363.4" cy="431.5" r="10.35" fill="#f00" stroke="#bc0000" stroke-width="0.8"/><circle cx="360.3" cy="428.5" r="6.0" fill="url(#hl)"/><circle cx="388.15" cy="434.17" r="10.35" fill="#f00" stroke="#bc0000" stroke-width="0.8"/><circle cx="385.05" cy="431.17" r="6.0" fill="url(#hl)"/><circle cx="412.9" cy="435.5" r="10.35" fill="#f00" stroke="#bc0000" stroke-width="0.8"/><circle cx="409.8" cy="432.5" r="6.0" fill="url(#hl)"/><circle cx="437.65" cy="437.16" r="10.35" fill="#f00" stroke="#bc0000" stroke-width="0.8"/><circle cx="434.55" cy="434.16" r="6.0" fill="url(#hl)"/><circle cx="462.4" cy="439.11" r="10.35" fill="#f00" stroke="#bc0000" stroke-width="0.8"/><circle cx="459.3" cy="436.11" r="6.0" fill="url(#hl)"/><circle cx="487.15" cy="441.29" r="10.35" fill="#f00" stroke="#bc0000" stroke-width="0.8"/><circle cx="484.05" cy="438.29" r="6.0" fill="url(#hl)"/><circle cx="511.9" cy="444.9" r="10.35" fill="#f00" stroke="#bc0000" stroke-width="0.8"/><circle cx="508.8" cy="441.9" r="6.0" fill="url(#hl)"/><circle cx="536.65" cy="446.8" r="10.35" fill="#f00" stroke="#bc0000" stroke-width="0.8"/><circle cx="533.55" cy="443.8" r="6.0" fill="url(#hl)"/><circle cx="561.4" cy="449.2" r="10.35" fill="#f00" stroke="#bc0000" stroke-width="0.8"/><circle cx="558.3" cy="446.2" r="6.0" fill="url(#hl)"/><circle cx="586.15" cy="451.8" r="10.35" fill="#f00" stroke="#bc0000" stroke-width="0.8"/><circle cx="583.05" cy="448.8" r="6.0" fill="url(#hl)"/>
<path d="M162.8 703 L163.07 696.66 L163.35 690.86 L163.62 685.52 L163.9 680.58 L164.17 675.98 L164.45 671.68 L164.72 667.63 L165 663.82 L165.27 660.21 L165.55 656.79 L165.82 653.54 L166.1 650.44 L166.37 647.48 L166.65 644.64 L166.92 641.92 L167.2 639.31 L167.47 636.8 L167.75 634.38 L168.02 632.05 L168.3 629.79 L168.57 627.61 L168.85 625.5 L169.12 623.46 L169.4 621.48 L169.67 619.56 L169.95 617.69 L170.22 615.88 L170.5 614.11 L170.77 612.39 L171.05 610.72 L171.32 609.08 L171.6 607.49 L171.87 605.94 L172.15 604.42 L172.42 602.94 L172.7 601.49 L172.97 600.07 L173.25 598.68 L173.52 597.33 L173.8 596 L174.07 594.7 L174.35 593.42 L174.62 592.17 L174.9 590.94 L175.17 589.74 L175.45 588.56 L175.72 587.4 L176 586.26 L176.27 585.14 L176.55 584.04 L176.82 582.96 L177.1 581.9 L177.37 580.85 L177.65 579.82 L177.92 578.81 L178.2 577.82 L178.47 576.84 L178.75 575.87 L179.02 574.92 L179.3 573.99 L179.57 573.07 L179.85 572.16 L180.12 571.26 L180.4 570.38 L180.67 569.51 L180.95 568.65 L181.22 567.81 L181.5 566.97 L181.77 566.15 L182.05 565.33 L182.32 564.53 L182.6 563.74 L182.87 562.96 L183.15 562.19 L183.42 561.42 L183.7 560.67 L183.97 559.93 L184.25 559.19 L184.52 558.46 L184.8 557.75 L185.07 557.04 L185.35 556.34 L185.62 555.64 L185.9 554.96 L186.17 554.28 L186.45 553.61 L186.72 552.95 L187 552.29 L187.27 551.64 L187.55 551 L187.82 550.37 L188.1 549.74 L188.37 549.12 L188.65 548.5 L188.92 547.9 L189.2 547.29 L189.47 546.7 L189.75 546.11 L190.02 545.52 L190.3 544.94 L190.57 544.37 L190.85 543.8 L191.12 543.24 L191.4 542.68 L191.67 542.13 L191.95 541.58 L192.22 541.04 L192.5 540.5 L192.77 539.97 L193 539.53 L194.38 536.96 L195.75 534.5 L197.12 532.14 L198.5 529.87 L199.88 527.69 L201.25 525.59 L202.62 523.57 L204 521.61 L205.38 519.73 L206.75 517.9 L208.12 516.14 L209.5 514.43 L210.88 512.77 L212.25 511.16 L213.62 509.6 L215 508.09 L216.38 506.62 L217.75 505.18 L219.12 503.79 L220.5 502.43 L221.88 501.11 L223.25 499.83 L224.62 498.57 L226 497.34 L227.38 496.15 L228.75 494.98 L230.12 493.84 L231.5 492.73 L232.88 491.64 L234.25 490.58 L235.62 489.54 L237 488.52 L238.38 487.52 L239.75 486.55 L241.12 485.59 L242.5 484.66 L243.88 483.74 L245.25 482.84 L246.62 481.96 L248 481.1 L249.38 480.25 L250.75 479.42 L252.12 478.6 L253.5 477.8 L254.88 477.02 L256.25 476.25 L257.62 475.49 L259 474.75 L260.38 474.02 L261.75 473.3 L263.12 472.59 L264.5 471.9 L265.88 471.22 L267.25 470.55 L268.62 469.89 L270 469.24 L271.38 468.6 L272.75 467.98 L274.12 467.36 L275.5 466.75 L276.88 466.16 L278.25 465.57 L279.62 464.99 L281 464.42 L282.38 463.86 L283.75 463.31 L285.12 462.77 L286.5 462.23 L287.88 461.7 L289.25 461.18 L290.62 460.67 L292 460.17 L293.38 459.67 L294.75 459.18 L296.12 458.7 L297.5 458.22 L298.88 457.75 L300.25 457.29 L301.62 456.84 L303 456.39 L304.38 455.94 L305.75 455.51 L307.12 455.08 L308.5 454.65 L309.88 454.23 L311.25 453.82 L312.62 453.41 L314 453.01 L315.38 452.61 L316.75 452.22 L318.12 451.84 L319.5 451.46 L320.88 451.08 L322.25 450.71 L323.62 450.34 L325 449.98 L326.38 449.63 L327.75 449.27 L329.12 448.93 L330.5 448.58 L331.88 448.25 L333.25 447.91 L334.62 447.58 L336 447.26 L337.38 446.94 L338.75 446.62 L340.12 446.31 L341.5 446 L342.88 445.69 L344.25 445.39 L345.62 445.09 L347 444.8 L348.38 444.51 L349.75 444.22 L351.12 443.94 L352.5 443.66 L353.88 443.39 L355.25 443.11 L356.62 442.84 L358 442.58 L359.38 442.32 L360.75 442.06 L362.12 441.8 L363.5 441.55 L364.88 441.3 L366.25 441.05 L367.62 440.81 L369 440.57 L370.38 440.33 L371.75 440.09 L373.12 439.86 L374.5 439.63 L375.88 439.41 L377.25 439.18 L378.62 438.96 L380 438.74 L381.38 438.53 L382.75 438.32 L384.12 438.1 L385.5 437.9 L386.88 437.69 L388.25 437.49 L389.62 437.29 L391 437.09 L392.38 436.9 L393.75 436.7 L395.12 436.51 L396.5 436.32 L397.88 436.14 L399.25 435.95 L400.62 435.77 L402 435.59 L403.38 435.42 L404.75 435.24 L406.12 435.07 L407.5 434.9 L408.88 434.73 L410.25 434.56 L411.62 434.4 L413 434.24 L414.38 434.08 L415.75 433.92 L417.12 433.76 L418.5 433.61 L419.88 433.45 L421.25 433.3 L422.62 433.16 L424 433.01 L425.38 432.86 L426.75 432.72 L428.12 432.58 L429.5 432.44 L430.88 432.3 L432.25 432.17 L433.62 432.03 L435 431.9 L436.38 431.77 L437.75 431.64 L439.12 431.51 L440.5 431.39 L441.88 431.26 L443.25 431.14 L444.62 431.02 L446 430.9 L447.38 430.78 L448.75 430.66 L450.12 430.55 L451.5 430.44 L452.88 430.32 L454.25 430.21 L455.62 430.11 L457 430 L458.38 429.89 L459.75 429.79 L461.12 429.69 L462.5 429.58 L463.88 429.48 L465.25 429.39 L466.62 429.29 L468 429.19 L469.38 429.1 L470.75 429 L472.12 428.91 L473.5 428.82 L474.88 428.73 L476.25 428.64 L477.62 428.56 L479 428.47 L480.38 428.39 L481.75 428.31 L483.12 428.22 L484.5 428.14 L485.88 428.06 L487.25 427.99 L488.62 427.91 L490 427.83 L491.38 427.76 L492.75 427.69 L494.12 427.61 L495.5 427.54 L496.88 427.47 L498.25 427.41 L499.62 427.34 L501 427.27 L502.38 427.21 L503.75 427.14 L505.12 427.08 L506.5 427.02 L507.88 426.96 L509.25 426.9 L510.62 426.84 L512 426.78 L513.38 426.72 L514.75 426.67 L516.12 426.61 L517.5 426.56 L518.88 426.51 L520.25 426.45 L521.62 426.4 L523 426.35 L524.38 426.31 L525.75 426.26 L527.12 426.21 L528.5 426.16 L529.88 426.12 L531.25 426.08 L532.62 426.03 L534 425.99 L535.38 425.95 L536.75 425.91 L538.12 425.87 L539.5 425.83 L540.88 425.79 L542.25 425.76 L543.62 425.72 L545 425.69 L546.38 425.65 L547.75 425.62 L549.12 425.59 L550.5 425.56 L551.88 425.53 L553.25 425.5 L554.62 425.47 L556 425.44 L557.38 425.41 L558.75 425.39 L560.12 425.36 L561.5 425.33 L562.88 425.31 L564.25 425.29 L565.62 425.26 L567 425.24 L568.38 425.22 L569.75 425.2 L571.12 425.18 L572.5 425.16 L573.88 425.15 L575.25 425.13 L576.62 425.11 L578 425.1 L579.38 425.08 L580.75 425.07 L582.12 425.05 L583.5 425.04 L584.88 425.03 L586.25 425.02 L587.62 425.01 L589 425 L590.38 424.99 L591.75 424.98 L593.12 424.97 L594.5 424.97 L595.88 424.96 L597.25 424.95 L598.62 424.95 L600 424.94" fill="none" stroke="#008000" stroke-width="6.7" stroke-linecap="round" stroke-linejoin="round"/>
<circle cx="190.15" cy="559.6" r="10.75" fill="#008000"/><circle cx="214.9" cy="512" r="10.75" fill="#008000"/><circle cx="239.65" cy="487.7" r="10.75" fill="#008000"/><circle cx="264.4" cy="471.6" r="10.75" fill="#008000"/><circle cx="289.15" cy="460.2" r="10.75" fill="#008000"/><circle cx="313.9" cy="451.7" r="10.75" fill="#008000"/><circle cx="338.65" cy="445.1" r="10.75" fill="#008000"/><circle cx="363.4" cy="439.8" r="10.75" fill="#008000"/><circle cx="388.15" cy="436" r="10.75" fill="#008000"/><circle cx="412.9" cy="432.8" r="10.75" fill="#008000"/><circle cx="437.65" cy="430.9" r="10.75" fill="#008000"/><circle cx="462.4" cy="429" r="10.75" fill="#008000"/><circle cx="487.15" cy="427.5" r="10.75" fill="#008000"/><circle cx="511.9" cy="426.9" r="10.75" fill="#008000"/><circle cx="536.65" cy="426.9" r="10.75" fill="#008000"/><circle cx="561.4" cy="426.9" r="10.75" fill="#008000"/><circle cx="586.15" cy="427" r="10.75" fill="#008000"/>
</g>
<circle cx="249.2" cy="649.5" r="36.4" fill="#8498fc"/>
<circle cx="392.9" cy="650" r="36.4" fill="#fc8080"/>
<circle cx="538.8" cy="648.2" r="36.4" fill="#9baa96"/>
<path d="M285.1 649.1 L353.7 648.6 M341.5 642.4 L353.8 648.6 L341.8 655.2" fill="none" stroke="#000" stroke-width="4.1" stroke-linecap="round" stroke-linejoin="round"/>
<path d="M429.4 648.7 L498 648.2 M485.8 642 L498.1 648.2 L486.1 654.8" fill="none" stroke="#000" stroke-width="4.1" stroke-linecap="round" stroke-linejoin="round"/>
<path d="M787.9 394.8 v6.6 M787.9 730.5 v-6.6 M1007.9 394.8 v6.6 M1007.9 730.5 v-6.6 M1227.9 394.8 v6.6 M1227.9 730.5 v-6.6 M779.5 406.5 h6.6 M1228 406.5 h-6.6 M779.5 447.16 h6.6 M1228 447.16 h-6.6 M779.5 487.82 h6.6 M1228 487.82 h-6.6 M779.5 528.48 h6.6 M1228 528.48 h-6.6 M779.5 569.14 h6.6 M1228 569.14 h-6.6 M779.5 609.8 h6.6 M1228 609.8 h-6.6 M779.5 650.46 h6.6 M1228 650.46 h-6.6 M779.5 691.12 h6.6 M1228 691.12 h-6.6" stroke="#000" stroke-width="2.2" fill="none"/><path d="M842.9 394.8 v3.35 M842.9 730.5 v-3.35 M897.9 394.8 v3.35 M897.9 730.5 v-3.35 M952.9 394.8 v3.35 M952.9 730.5 v-3.35 M1062.9 394.8 v3.35 M1062.9 730.5 v-3.35 M1117.9 394.8 v3.35 M1117.9 730.5 v-3.35 M1172.9 394.8 v3.35 M1172.9 730.5 v-3.35 M779.5 434.92 h3.35 M1228 434.92 h-3.35 M779.5 427.76 h3.35 M1228 427.76 h-3.35 M779.5 422.68 h3.35 M1228 422.68 h-3.35 M779.5 418.74 h3.35 M1228 418.74 h-3.35 M779.5 415.52 h3.35 M1228 415.52 h-3.35 M779.5 412.8 h3.35 M1228 412.8 h-3.35 M779.5 410.44 h3.35 M1228 410.44 h-3.35 M779.5 408.36 h3.35 M1228 408.36 h-3.35 M779.5 475.58 h3.35 M1228 475.58 h-3.35 M779.5 468.42 h3.35 M1228 468.42 h-3.35 M779.5 463.34 h3.35 M1228 463.34 h-3.35 M779.5 459.4 h3.35 M1228 459.4 h-3.35 M779.5 456.18 h3.35 M1228 456.18 h-3.35 M779.5 453.46 h3.35 M1228 453.46 h-3.35 M779.5 451.1 h3.35 M1228 451.1 h-3.35 M779.5 449.02 h3.35 M1228 449.02 h-3.35 M779.5 516.24 h3.35 M1228 516.24 h-3.35 M779.5 509.08 h3.35 M1228 509.08 h-3.35 M779.5 504 h3.35 M1228 504 h-3.35 M779.5 500.06 h3.35 M1228 500.06 h-3.35 M779.5 496.84 h3.35 M1228 496.84 h-3.35 M779.5 494.12 h3.35 M1228 494.12 h-3.35 M779.5 491.76 h3.35 M1228 491.76 h-3.35 M779.5 489.68 h3.35 M1228 489.68 h-3.35 M779.5 556.9 h3.35 M1228 556.9 h-3.35 M779.5 549.74 h3.35 M1228 549.74 h-3.35 M779.5 544.66 h3.35 M1228 544.66 h-3.35 M779.5 540.72 h3.35 M1228 540.72 h-3.35 M779.5 537.5 h3.35 M1228 537.5 h-3.35 M779.5 534.78 h3.35 M1228 534.78 h-3.35 M779.5 532.42 h3.35 M1228 532.42 h-3.35 M779.5 530.34 h3.35 M1228 530.34 h-3.35 M779.5 597.56 h3.35 M1228 597.56 h-3.35 M779.5 590.4 h3.35 M1228 590.4 h-3.35 M779.5 585.32 h3.35 M1228 585.32 h-3.35 M779.5 581.38 h3.35 M1228 581.38 h-3.35 M779.5 578.16 h3.35 M1228 578.16 h-3.35 M779.5 575.44 h3.35 M1228 575.44 h-3.35 M779.5 573.08 h3.35 M1228 573.08 h-3.35 M779.5 571 h3.35 M1228 571 h-3.35 M779.5 638.22 h3.35 M1228 638.22 h-3.35 M779.5 631.06 h3.35 M1228 631.06 h-3.35 M779.5 625.98 h3.35 M1228 625.98 h-3.35 M779.5 622.04 h3.35 M1228 622.04 h-3.35 M779.5 618.82 h3.35 M1228 618.82 h-3.35 M779.5 616.1 h3.35 M1228 616.1 h-3.35 M779.5 613.74 h3.35 M1228 613.74 h-3.35 M779.5 611.66 h3.35 M1228 611.66 h-3.35 M779.5 678.88 h3.35 M1228 678.88 h-3.35 M779.5 671.72 h3.35 M1228 671.72 h-3.35 M779.5 666.64 h3.35 M1228 666.64 h-3.35 M779.5 662.7 h3.35 M1228 662.7 h-3.35 M779.5 659.48 h3.35 M1228 659.48 h-3.35 M779.5 656.76 h3.35 M1228 656.76 h-3.35 M779.5 654.4 h3.35 M1228 654.4 h-3.35 M779.5 652.32 h3.35 M1228 652.32 h-3.35 M779.5 719.54 h3.35 M1228 719.54 h-3.35 M779.5 712.38 h3.35 M1228 712.38 h-3.35 M779.5 707.3 h3.35 M1228 707.3 h-3.35 M779.5 703.36 h3.35 M1228 703.36 h-3.35 M779.5 700.14 h3.35 M1228 700.14 h-3.35 M779.5 697.42 h3.35 M1228 697.42 h-3.35 M779.5 695.06 h3.35 M1228 695.06 h-3.35 M779.5 692.98 h3.35 M1228 692.98 h-3.35" stroke="#000" stroke-width="1.95" fill="none"/>
<rect x="779.5" y="394.8" width="448.5" height="335.7" fill="none" stroke="#000" stroke-width="2.45"/>
<g clip-path="url(#cpd)">
<circle cx="818.15" cy="690.3" r="9.55" fill="#fff" stroke="#0000d8" stroke-width="3.1"/><circle cx="842.9" cy="700.3" r="9.55" fill="#fff" stroke="#0000d8" stroke-width="3.1"/><circle cx="867.65" cy="708.2" r="9.55" fill="#fff" stroke="#0000d8" stroke-width="3.1"/><circle cx="892.4" cy="710.7" r="9.55" fill="#fff" stroke="#0000d8" stroke-width="3.1"/><circle cx="917.15" cy="709.6" r="9.55" fill="#fff" stroke="#0000d8" stroke-width="3.1"/><circle cx="941.9" cy="707.7" r="9.55" fill="#fff" stroke="#0000d8" stroke-width="3.1"/><circle cx="966.65" cy="706.7" r="9.55" fill="#fff" stroke="#0000d8" stroke-width="3.1"/><circle cx="991.4" cy="706.7" r="9.55" fill="#fff" stroke="#0000d8" stroke-width="3.1"/><circle cx="1016.15" cy="707.5" r="9.55" fill="#fff" stroke="#0000d8" stroke-width="3.1"/><circle cx="1040.9" cy="708.6" r="9.55" fill="#fff" stroke="#0000d8" stroke-width="3.1"/><circle cx="1065.65" cy="710.1" r="9.55" fill="#fff" stroke="#0000d8" stroke-width="3.1"/><circle cx="1090.4" cy="711.6" r="9.55" fill="#fff" stroke="#0000d8" stroke-width="3.1"/><circle cx="1115.15" cy="713.5" r="9.55" fill="#fff" stroke="#0000d8" stroke-width="3.1"/><circle cx="1139.9" cy="715.4" r="9.55" fill="#fff" stroke="#0000d8" stroke-width="3.1"/><circle cx="1164.65" cy="717.7" r="9.55" fill="#fff" stroke="#0000d8" stroke-width="3.1"/><circle cx="1189.4" cy="720" r="9.55" fill="#fff" stroke="#0000d8" stroke-width="3.1"/><circle cx="1214.15" cy="722.4" r="9.55" fill="#fff" stroke="#0000d8" stroke-width="3.1"/>
</g>
<circle cx="877.6" cy="647.6" r="36.4" fill="#8498fc"/>
<circle cx="1021" cy="647.9" r="36.4" fill="#fc8080"/>
<circle cx="1168.5" cy="646.3" r="36.4" fill="#9baa96"/>
<g opacity="0.5"><path d="M915.3 647.7 H984.8" fill="none" stroke="#000" stroke-width="3.5" stroke-dasharray="11 4.6"/><path d="M925.1 640.7 L914 647.7 L926.3 653.6" fill="none" stroke="#000" stroke-width="3.5" stroke-linecap="round" stroke-linejoin="round"/></g><path d="M942.8 638.6 L959.4 656.8 M942.8 656.8 L959.4 638.6" fill="none" stroke="#000" stroke-opacity="0.5" stroke-width="7.4"/>
<g opacity="0.5"><path d="M1059.4 646.8 H1128.9" fill="none" stroke="#000" stroke-width="3.5" stroke-dasharray="11 4.6"/><path d="M1069.2 639.8 L1058.1 646.8 L1070.4 652.7" fill="none" stroke="#000" stroke-width="3.5" stroke-linecap="round" stroke-linejoin="round"/></g><path d="M1086.9 637.7 L1103.5 655.9 M1086.9 655.9 L1103.5 637.7" fill="none" stroke="#000" stroke-opacity="0.5" stroke-width="7.4"/>
<g clip-path="url(#cpd)">
<circle cx="793.4" cy="576.9" r="10.35" fill="#f00" stroke="#bc0000" stroke-width="0.8"/><circle cx="790.3" cy="573.9" r="6.0" fill="url(#hl)"/><circle cx="818.15" cy="551.6" r="10.35" fill="#f00" stroke="#bc0000" stroke-width="0.8"/><circle cx="815.05" cy="548.6" r="6.0" fill="url(#hl)"/><circle cx="842.9" cy="561.3" r="10.35" fill="#f00" stroke="#bc0000" stroke-width="0.8"/><circle cx="839.8" cy="558.3" r="6.0" fill="url(#hl)"/><circle cx="867.65" cy="569.7" r="10.35" fill="#f00" stroke="#bc0000" stroke-width="0.8"/><circle cx="864.55" cy="566.7" r="6.0" fill="url(#hl)"/><circle cx="892.4" cy="576.3" r="10.35" fill="#f00" stroke="#bc0000" stroke-width="0.8"/><circle cx="889.3" cy="573.3" r="6.0" fill="url(#hl)"/><circle cx="917.15" cy="580.1" r="10.35" fill="#f00" stroke="#bc0000" stroke-width="0.8"/><circle cx="914.05" cy="577.1" r="6.0" fill="url(#hl)"/><circle cx="941.9" cy="582" r="10.35" fill="#f00" stroke="#bc0000" stroke-width="0.8"/><circle cx="938.8" cy="579" r="6.0" fill="url(#hl)"/><circle cx="966.65" cy="583" r="10.35" fill="#f00" stroke="#bc0000" stroke-width="0.8"/><circle cx="963.55" cy="580" r="6.0" fill="url(#hl)"/><circle cx="991.4" cy="583.5" r="10.35" fill="#f00" stroke="#bc0000" stroke-width="0.8"/><circle cx="988.3" cy="580.5" r="6.0" fill="url(#hl)"/><circle cx="1016.15" cy="583.9" r="10.35" fill="#f00" stroke="#bc0000" stroke-width="0.8"/><circle cx="1013.05" cy="580.9" r="6.0" fill="url(#hl)"/><circle cx="1040.9" cy="584.8" r="10.35" fill="#f00" stroke="#bc0000" stroke-width="0.8"/><circle cx="1037.8" cy="581.8" r="6.0" fill="url(#hl)"/><circle cx="1065.65" cy="586.2" r="10.35" fill="#f00" stroke="#bc0000" stroke-width="0.8"/><circle cx="1062.55" cy="583.2" r="6.0" fill="url(#hl)"/><circle cx="1090.4" cy="587.7" r="10.35" fill="#f00" stroke="#bc0000" stroke-width="0.8"/><circle cx="1087.3" cy="584.7" r="6.0" fill="url(#hl)"/><circle cx="1115.15" cy="589.6" r="10.35" fill="#f00" stroke="#bc0000" stroke-width="0.8"/><circle cx="1112.05" cy="586.6" r="6.0" fill="url(#hl)"/><circle cx="1139.9" cy="591.5" r="10.35" fill="#f00" stroke="#bc0000" stroke-width="0.8"/><circle cx="1136.8" cy="588.5" r="6.0" fill="url(#hl)"/><circle cx="1164.65" cy="593.9" r="10.35" fill="#f00" stroke="#bc0000" stroke-width="0.8"/><circle cx="1161.55" cy="590.9" r="6.0" fill="url(#hl)"/><circle cx="1189.4" cy="596.2" r="10.35" fill="#f00" stroke="#bc0000" stroke-width="0.8"/><circle cx="1186.3" cy="593.2" r="6.0" fill="url(#hl)"/><circle cx="1214.15" cy="599" r="10.35" fill="#f00" stroke="#bc0000" stroke-width="0.8"/><circle cx="1211.05" cy="596" r="6.0" fill="url(#hl)"/>
<path d="M790.4 406.7 L1228 465.75" fill="none" stroke="#008000" stroke-width="6.7" stroke-linecap="round" stroke-linejoin="round"/>
<circle cx="790.4" cy="406.7" r="10.75" fill="#008000"/><circle cx="815.15" cy="410.04" r="10.75" fill="#008000"/><circle cx="839.9" cy="413.38" r="10.75" fill="#008000"/><circle cx="864.65" cy="416.72" r="10.75" fill="#008000"/><circle cx="889.4" cy="420.06" r="10.75" fill="#008000"/><circle cx="914.15" cy="423.4" r="10.75" fill="#008000"/><circle cx="938.9" cy="426.74" r="10.75" fill="#008000"/><circle cx="963.65" cy="430.08" r="10.75" fill="#008000"/><circle cx="988.4" cy="433.42" r="10.75" fill="#008000"/><circle cx="1013.15" cy="436.76" r="10.75" fill="#008000"/><circle cx="1037.9" cy="440.1" r="10.75" fill="#008000"/><circle cx="1062.65" cy="443.44" r="10.75" fill="#008000"/><circle cx="1087.4" cy="446.78" r="10.75" fill="#008000"/><circle cx="1112.15" cy="450.12" r="10.75" fill="#008000"/><circle cx="1136.9" cy="453.46" r="10.75" fill="#008000"/><circle cx="1161.65" cy="456.8" r="10.75" fill="#008000"/><circle cx="1186.4" cy="460.14" r="10.75" fill="#008000"/><circle cx="1211.15" cy="463.48" r="10.75" fill="#008000"/>
</g>
<g class="txt">
<text transform="translate(362.67 247.2) scale(1.12 1)" class="nd">a</text><text transform="translate(381.67 255) scale(1.15 1)" class="nds">1</text><text transform="translate(512.27 247.4) scale(1.12 1)" class="nd">a</text><text transform="translate(532.24 255.2) scale(1.15 1)" class="nds">2</text><text transform="translate(979.77 247.2) scale(1.12 1)" class="nd">a</text><text transform="translate(998.77 255) scale(1.15 1)" class="nds">1</text><text transform="translate(1129.37 247.4) scale(1.12 1)" class="nd">a</text><text transform="translate(1149.34 255.2) scale(1.15 1)" class="nds">2</text><text transform="translate(231.17 661.7) scale(1.12 1)" class="nd">a</text><text transform="translate(250.17 669.5) scale(1.15 1)" class="nds">1</text><text transform="translate(378.47 662.2) scale(1.12 1)" class="nd">a</text><text transform="translate(398.44 670) scale(1.15 1)" class="nds">2</text><text transform="translate(524.57 660.4) scale(1.12 1)" class="nd">a</text><text transform="translate(544.42 668.2) scale(1.15 1)" class="nds">3</text><text transform="translate(859.57 659.8) scale(1.12 1)" class="nd">a</text><text transform="translate(878.57 667.6) scale(1.15 1)" class="nds">1</text><text transform="translate(1006.57 660.1) scale(1.12 1)" class="nd">a</text><text transform="translate(1026.54 667.9) scale(1.15 1)" class="nds">2</text><text transform="translate(1154.27 658.5) scale(1.12 1)" class="nd">a</text><text transform="translate(1174.12 666.3) scale(1.15 1)" class="nds">3</text>
<path d="M763 0H583V-1147Q518 -1085 412.5 -1023T223 -930V-1104Q373 -1174.5 485 -1275T644 -1470H763Z" transform="translate(74.21 63.2) scale(0.02310)" class="one"/><text transform="translate(100.52 63.2) scale(1 1.038)" font-size="47.3">0</text><text transform="translate(126.83 44.1) scale(1 1.038)" font-size="31.6">0</text>
<path d="M763 0H583V-1147Q518 -1085 412.5 -1023T223 -930V-1104Q373 -1174.5 485 -1275T644 -1470H763Z" transform="translate(63.69 197.1) scale(0.02310)" class="one"/><text transform="translate(90 197.1) scale(1 1.038)" font-size="47.3">0</text><text transform="translate(116.3 178) scale(1 1.038)" font-size="31.6">-2</text>
<path d="M763 0H583V-1147Q518 -1085 412.5 -1023T223 -930V-1104Q373 -1174.5 485 -1275T644 -1470H763Z" transform="translate(63.69 331.8) scale(0.02310)" class="one"/><text transform="translate(90 331.8) scale(1 1.038)" font-size="47.3">0</text><text transform="translate(116.3 312.2) scale(1 1.038)" font-size="31.6">-4</text>
<path d="M763 0H583V-1147Q518 -1085 412.5 -1023T223 -930V-1104Q373 -1174.5 485 -1275T644 -1470H763Z" transform="translate(74.21 424.5) scale(0.02310)" class="one"/><text transform="translate(100.52 424.5) scale(1 1.038)" font-size="47.3">0</text><text transform="translate(126.83 405.4) scale(1 1.038)" font-size="31.6">0</text>
<path d="M763 0H583V-1147Q518 -1085 412.5 -1023T223 -930V-1104Q373 -1174.5 485 -1275T644 -1470H763Z" transform="translate(63.69 586.5) scale(0.02310)" class="one"/><text transform="translate(90 586.5) scale(1 1.038)" font-size="47.3">0</text><text transform="translate(116.3 567.4) scale(1 1.038)" font-size="31.6">-4</text>
<path d="M763 0H583V-1147Q518 -1085 412.5 -1023T223 -930V-1104Q373 -1174.5 485 -1275T644 -1470H763Z" transform="translate(63.69 748.3) scale(0.02310)" class="one"/><text transform="translate(90 748.3) scale(1 1.038)" font-size="47.3">0</text><text transform="translate(116.3 729.2) scale(1 1.038)" font-size="31.6">-8</text>
<path d="M763 0H583V-1147Q518 -1085 412.5 -1023T223 -930V-1104Q373 -1174.5 485 -1275T644 -1470H763Z" transform="translate(702.01 63.2) scale(0.02310)" class="one"/><text transform="translate(728.32 63.2) scale(1 1.038)" font-size="47.3">0</text><text transform="translate(754.63 44.1) scale(1 1.038)" font-size="31.6">0</text>
<path d="M763 0H583V-1147Q518 -1085 412.5 -1023T223 -930V-1104Q373 -1174.5 485 -1275T644 -1470H763Z" transform="translate(691.49 197.1) scale(0.02310)" class="one"/><text transform="translate(717.8 197.1) scale(1 1.038)" font-size="47.3">0</text><text transform="translate(744.1 178) scale(1 1.038)" font-size="31.6">-2</text>
<path d="M763 0H583V-1147Q518 -1085 412.5 -1023T223 -930V-1104Q373 -1174.5 485 -1275T644 -1470H763Z" transform="translate(691.49 331.8) scale(0.02310)" class="one"/><text transform="translate(717.8 331.8) scale(1 1.038)" font-size="47.3">0</text><text transform="translate(744.1 312.2) scale(1 1.038)" font-size="31.6">-4</text>
<path d="M763 0H583V-1147Q518 -1085 412.5 -1023T223 -930V-1104Q373 -1174.5 485 -1275T644 -1470H763Z" transform="translate(702.01 424.5) scale(0.02310)" class="one"/><text transform="translate(728.32 424.5) scale(1 1.038)" font-size="47.3">0</text><text transform="translate(754.63 405.4) scale(1 1.038)" font-size="31.6">0</text>
<path d="M763 0H583V-1147Q518 -1085 412.5 -1023T223 -930V-1104Q373 -1174.5 485 -1275T644 -1470H763Z" transform="translate(691.49 586.5) scale(0.02310)" class="one"/><text transform="translate(717.8 586.5) scale(1 1.038)" font-size="47.3">0</text><text transform="translate(744.1 567.4) scale(1 1.038)" font-size="31.6">-4</text>
<path d="M763 0H583V-1147Q518 -1085 412.5 -1023T223 -930V-1104Q373 -1174.5 485 -1275T644 -1470H763Z" transform="translate(691.49 748.3) scale(0.02310)" class="one"/><text transform="translate(717.8 748.3) scale(1 1.038)" font-size="47.3">0</text><text transform="translate(744.1 729.2) scale(1 1.038)" font-size="31.6">-8</text>
<text transform="translate(146.85 774.8) scale(1 1.038)" font-size="47.3">0</text><text transform="translate(353.69 774.8) scale(1 1.038)" font-size="47.3">80</text><path d="M763 0H583V-1147Q518 -1085 412.5 -1023T223 -930V-1104Q373 -1174.5 485 -1275T644 -1470H763Z" transform="translate(560.54 774.8) scale(0.02310)" class="one"/><text transform="translate(586.85 774.8) scale(1 1.038)" font-size="47.3">60</text>
<text transform="translate(774.75 774.8) scale(1 1.038)" font-size="47.3">0</text><text transform="translate(981.59 774.8) scale(1 1.038)" font-size="47.3">80</text><path d="M763 0H583V-1147Q518 -1085 412.5 -1023T223 -930V-1104Q373 -1174.5 485 -1275T644 -1470H763Z" transform="translate(1188.44 774.8) scale(0.02310)" class="one"/><text transform="translate(1214.75 774.8) scale(1 1.038)" font-size="47.3">60</text>
<text x="236.6" y="849.9" font-size="47.3">t</text><text transform="translate(263 849.9) scale(0.86 1)" font-size="47.3">(</text><text x="278.65" y="849.9" font-size="47.3">units of</text><text transform="translate(443.8 850.5) scale(1.09 0.96)" font-size="49" class="kap">κ</text><text transform="translate(471.2 830.5) scale(1 1.038)" font-size="31.6">-</text><path d="M763 0H583V-1147Q518 -1085 412.5 -1023T223 -930V-1104Q373 -1174.5 485 -1275T644 -1470H763Z" transform="translate(481.72 830.5) scale(0.01543)" class="one"/><text transform="translate(502.7 849.9) scale(0.86 1)" font-size="47.3">)</text>
<text x="864.6" y="849.9" font-size="47.3">t</text><text transform="translate(891 849.9) scale(0.86 1)" font-size="47.3">(</text><text x="906.65" y="849.9" font-size="47.3">units of</text><text transform="translate(1071.8 850.5) scale(1.09 0.96)" font-size="49" class="kap">κ</text><text transform="translate(1099.2 830.5) scale(1 1.038)" font-size="31.6">-</text><path d="M763 0H583V-1147Q518 -1085 412.5 -1023T223 -930V-1104Q373 -1174.5 485 -1275T644 -1470H763Z" transform="translate(1109.72 830.5) scale(0.01543)" class="one"/><text transform="translate(1130.7 849.9) scale(0.86 1)" font-size="47.3">)</text>
<text transform="translate(18.9 50.4) scale(0.915 1)" class="pl">a</text>
<text transform="translate(653.2 49.4) scale(1 1)" class="pl">b</text>
<text transform="translate(18.3 418.9) scale(1 1)" class="pl">c</text>
<text transform="translate(655 416.8) scale(1 1)" class="pl">d</text>
<text transform="translate(45.4 210.5) rotate(-90) scale(1 1.045)" font-size="47.3">P</text><text transform="translate(58.2 178.7) rotate(-90)" font-size="31.5">m</text>
<text transform="translate(678.9 202.3) rotate(-90) scale(1 1.045)" font-size="47.3">P</text><text transform="translate(691.7 170.5) rotate(-90)" font-size="31.5">m</text>
<text transform="translate(45.4 580.2) rotate(-90) scale(1 1.045)" font-size="47.3">P</text><text transform="translate(58.2 548.4) rotate(-90)" font-size="31.5">m</text>
<text transform="translate(679.8 580.2) rotate(-90) scale(1 1.045)" font-size="47.3">P</text><text transform="translate(692.6 548.4) rotate(-90)" font-size="31.5">m</text>
</g>
</svg>
</body></html>
